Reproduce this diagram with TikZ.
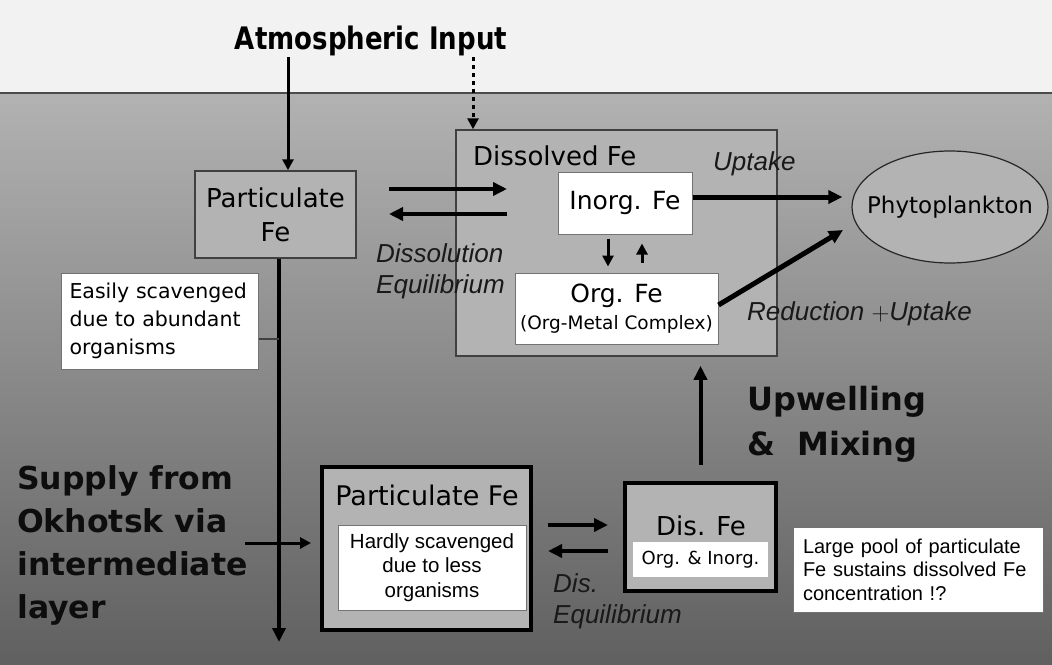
\documentclass[tikz,border=0pt]{standalone}
\usepackage{fontspec}
\setmainfont{DejaVu Sans}
\newfontfamily\arialfont{Liberation Sans}
\newfontfamily\narrowfont{DejaVu Sans}[FakeStretch=0.84]
\usetikzlibrary{shapes.geometric,arrows.meta}
\definecolor{sky}{HTML}{F2F2F2}
\definecolor{seatop}{HTML}{B2B2B2}
\definecolor{seamid}{HTML}{989898}
\definecolor{seabot}{HTML}{606060}
\definecolor{boxgray}{HTML}{B3B3B3}
\newcommand{\fsz}[2]{\fontsize{#1pt}{#2pt}\selectfont}
\tikzset{plainbox/.style={draw=black!75, line width=1.5pt, fill=boxgray, inner sep=0pt},
  heavybox/.style={draw=black, line width=4pt, fill=boxgray, inner sep=0pt},
  whitebox/.style={draw=black!55, line width=1pt, fill=white, inner sep=0pt},
  flow/.style={-{Triangle[length=14pt,width=13pt]}, line width=4pt},
  thinflow/.style={-{Triangle[length=11pt,width=11pt]}, line width=3pt},
  slanted/.style={font=\arialfont\itshape\fsz{26}{31}, text=black!90, inner sep=0pt, align=left},
  heavytext/.style={font=\bfseries\fsz{32}{45}, text=black!95, inner sep=0pt, align=left}}

\begin{document}
\begin{tikzpicture}[x=1pt,y=-1pt]
  \useasboundingbox (0,0) rectangle (1052,664);
  % sky and sea
  \fill[sky] (0,0) rectangle (1052,93);
  \shade[top color=seatop, middle color=seamid, bottom color=seabot] (0,93) rectangle (1052,664);
  \draw[black!70, line width=2pt] (0,93) -- (1052,93);

  \node[font=\narrowfont\bfseries\fsz{31}{31}, inner sep=0pt, anchor=base] (atm) at (371,49) {Atmospheric Input};
  \coordinate (atmL) at (288,57);
  \coordinate (atmR) at (473,57);

  % surface layer
  \node[plainbox, minimum width=161pt, minimum height=87pt, align=center, font=\fsz{26}{34}] (partup) at (275.5,214.5) {Particulate\\Fe};
  \node[plainbox, minimum width=321pt, minimum height=226pt] (dissolved) at (616.5,243) {};
  \node[anchor=base west, font=\fsz{26}{30}, inner sep=0pt] (dissolvedtitle) at (473,165) {Dissolved Fe};
  \node[whitebox, minimum width=134pt, minimum height=62pt, font=\fsz{25}{30}] (inorg) at (625,203) {Inorg. Fe};
  \node[whitebox, minimum width=203pt, minimum height=71pt, align=center, font=\fsz{25}{27}] (org) at (616.5,308.5) {Org. Fe\\{\fsz{18.5}{22}(Org-Metal Complex)}};
  \node[ellipse, draw=black!85, line width=1.2pt, fill=boxgray, minimum width=196pt, minimum height=112pt, inner sep=0pt, font=\fsz{23}{28}] (phyto) at (950,207) {\makebox[110pt]{Phytoplankton}};
  \node[whitebox, minimum width=197pt, minimum height=96pt, text width=180pt, align=left, font=\fsz{20.5}{28}] (easily) at (159.5,321) {Easily scavenged\\due to abundant\\organisms};

  \node[slanted, anchor=base west] (dissolution) at (376,293) {Dissolution\\Equilibrium};
  \node[slanted, anchor=base west] (uptake) at (713,170) {Uptake};
  \node[slanted, anchor=base west] (reduction) at (747,320) {Reduction {\fsz{30}{31}$+$}Uptake};

  % intermediate layer
  \node[heavybox, minimum width=209pt, minimum height=163pt] (partlow) at (426.5,548.5) {};
  \node[anchor=base, font=\fsz{27}{30}, inner sep=0pt] (partlowtitle) at (427,505) {Particulate Fe};
  \node[whitebox, minimum width=188pt, minimum height=85pt, align=center, font=\arialfont\fsz{20.5}{24.5}] (hardly) at (432,567.5) {Hardly scavenged\\due to less\\organisms};
  \node[heavybox, minimum width=151pt, minimum height=108pt] (disfe) at (700.5,537) {};
  \node[anchor=base, font=\fsz{26}{30}, inner sep=0pt] (disfetitle) at (701,535) {Dis. Fe};
  \node[fill=white, minimum width=135pt, minimum height=35pt, inner sep=0pt, font=\fsz{18}{20}] (orginorg) at (700.5,559.5) {Org. \& Inorg.};
  \node[whitebox, minimum width=250pt, minimum height=85pt, text width=230pt, align=left, font=\arialfont\fsz{20}{23.5}] (pool) at (918,569.5) {Large pool of particulate\\Fe sustains dissolved Fe\\concentration !?};

  \node[slanted, anchor=base west] (diseq) at (553,623) {Dis.\\Equilibrium};
  \node[heavytext, anchor=base west] (upwelling) at (747,455) {Upwelling\\\&~~Mixing};
  \node[heavytext, font=\bfseries\fsz{31.5}{43}, anchor=base west] (supply) at (17,618) {Supply from\\Okhotsk via\\intermediate\\layer};

  % free ends
  \coordinate (sink) at (279,642);
  \coordinate (dissR) at (389,189);
  \coordinate (dissL) at (507,214);
  \coordinate (disR) at (548,525);
  \coordinate (disL) at (608,551);
  \coordinate (orgtip) at (843,230);
  \coordinate (supplyend) at (245,543);

  % connectors
  \draw[thinflow] (atmL) -- (atmL |- partup.north);
  \draw[thinflow, dash pattern=on 4pt off 4pt] (atmR) -- (atmR |- dissolved.north);
  \draw[flow] (sink |- partup.south) -- (sink);
  \draw[black!75, line width=1.5pt] ([yshift=-18pt]easily.east) -- ([yshift=-18pt]easily.east -| sink);
  \draw[flow] (dissR) -- (dissR -| dissL);
  \draw[flow] (dissL) -- (dissL -| dissR);
  \draw[flow, line width=5pt, shorten >=9pt] ([yshift=6pt]inorg.east) -- ([yshift=6pt]inorg.east -| phyto.west);
  \draw[flow, line width=5pt] ([yshift=3.5pt]org.east) -- (orgtip);
  \draw[thinflow, shorten <=4pt, shorten >=6pt] ([xshift=-17pt]inorg.south) -- ([xshift=-17pt]inorg.south |- org.north);
  \draw[thinflow, shorten <=10pt, shorten >=9pt] ([xshift=17pt]inorg.south |- org.north) -- ([xshift=17pt]inorg.south);
  \draw[thinflow, shorten >=9pt] (supplyend) -- (supplyend -| partlow.west);
  \draw[flow] (disR) -- (disR -| disL);
  \draw[flow] (disL) -- (disL -| disR);
  \draw[flow, shorten <=16pt, shorten >=9pt] (disfe.north) -- (disfe.north |- dissolved.south);
\end{tikzpicture}
\end{document}
